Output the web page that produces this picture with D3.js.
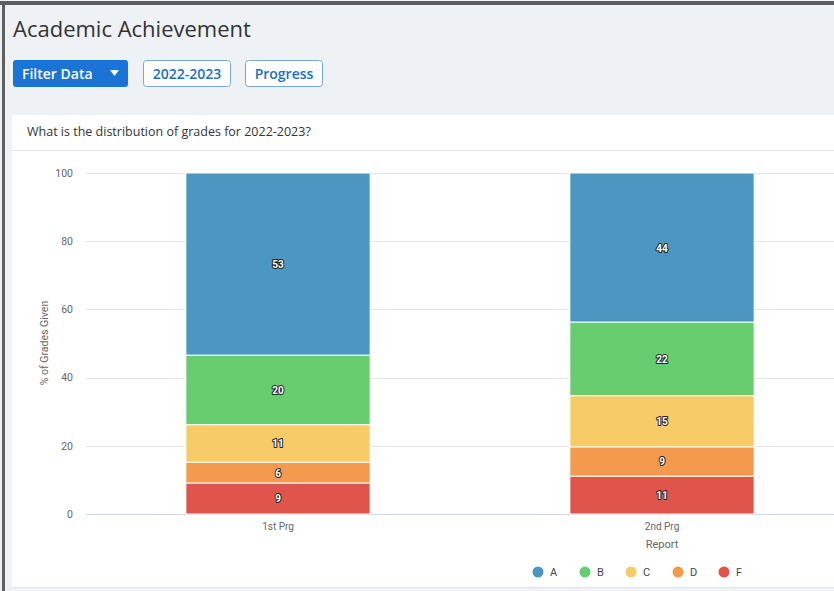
<!DOCTYPE html>
<html><head><meta charset="utf-8">
<script src="https://cdn.jsdelivr.net/npm/d3@7"></script>
<style>
html,body{margin:0;padding:0;background:#fff;}
svg{display:block;}
</style></head>
<body>
<svg id="c" width="834" height="591"></svg>
<script>
const categories = ["1st Prg", "2nd Prg"];
const grades = ["A", "B", "C", "D", "F"];
const valuesA = [53.4, 43.7];
const valuesB = [20.4, 21.6];
const valuesC = [11.0, 15.0];
const valuesD = [6.1, 8.6];
const valuesF = [9.1, 11.1];
const yTicks = [0, 20, 40, 60, 80, 100];
const colors = {A:"#4b97c1", B:"#67cd6f", C:"#f7cb68", D:"#f39a4f", F:"#e0554b"};

const seriesMap = {A:valuesA, B:valuesB, C:valuesC, D:valuesD, F:valuesF};
const rows = categories.map((c,i)=>{const r={cat:c}; grades.forEach(g=>r[g]=seriesMap[g][i]); return r;});

const svg = d3.select("#c");
const W = 834, H = 591;

// frame & backgrounds
svg.append("rect").attr("x",0).attr("y",0).attr("width",W).attr("height",H).attr("fill","#eef2f4");
svg.append("rect").attr("x",0).attr("y",1).attr("width",W).attr("height",4).attr("fill","#5f5f5f");
svg.append("rect").attr("x",2).attr("y",1).attr("width",3).attr("height",H).attr("fill","#5f5f5f");
// card
svg.append("rect").attr("x",12).attr("y",115).attr("width",W-12).attr("height",472).attr("fill","#fff");
svg.append("line").attr("x1",12).attr("x2",W).attr("y1",587.5).attr("y2",587.5).attr("stroke","#e2e5e7");
svg.append("line").attr("x1",12).attr("x2",W).attr("y1",150.5).attr("y2",150.5).attr("stroke","#e6e6e6");

// title
svg.append("text").attr("x",13).attr("y",37).text("Academic Achievement")
  .attr("font-family","'Open Sans', sans-serif").attr("font-size",22).attr("fill","#333");

// buttons
const btnY = 60, btnH = 27;
svg.append("rect").attr("x",13).attr("y",btnY).attr("width",115).attr("height",btnH).attr("rx",3).attr("fill","#1a73d6");
svg.append("text").attr("x",22).attr("y",btnY+18.5).text("Filter Data")
  .attr("font-family","'Open Sans', sans-serif").attr("font-size",14).attr("font-weight",600).attr("fill","#fff");
svg.append("path").attr("d",`M110,${btnY+10} L119,${btnY+10} L114.5,${btnY+16} Z`).attr("fill","#fff");
[["2022-2023",143,87],["Progress",245,77]].forEach(([t,x,w])=>{
  svg.append("rect").attr("x",x+0.5).attr("y",btnY+0.5).attr("width",w).attr("height",btnH-1).attr("rx",3)
    .attr("fill","#fff").attr("stroke","#7aa7d9");
  svg.append("text").attr("x",x+w/2+0.5).attr("y",btnY+18.5).text(t).attr("text-anchor","middle")
    .attr("font-family","'Open Sans', sans-serif").attr("font-size",14).attr("font-weight",600).attr("fill","#1a6fc9");
});

// card header
svg.append("text").attr("x",27).attr("y",136).text("What is the distribution of grades for 2022-2023?")
  .attr("font-family","'Open Sans', sans-serif").attr("font-size",12.5).attr("fill","#333");

// chart
const plotL = 86, plotR = 854, yTop = 173, yBot = 514;
const x = d3.scaleBand().domain(categories).range([plotL, plotR]).paddingInner(0.52).paddingOuter(0.26);
const y = d3.scaleLinear().domain([0,100]).range([yBot, yTop]);

const g = svg.append("g");
g.selectAll("line.grid").data(yTicks).join("line").attr("class","grid")
  .attr("x1",plotL).attr("x2",W).attr("y1",d=>Math.round(y(d))+0.5).attr("y2",d=>Math.round(y(d))+0.5)
  .attr("stroke", d=> d===0 ? "#ccd6eb" : "#e6e6e6");

const yAxis = d3.axisLeft(y).tickValues(yTicks).tickSize(0).tickPadding(0);
const ya = svg.append("g").attr("transform",`translate(73,0)`).call(yAxis);
ya.select(".domain").remove();
ya.selectAll("text").attr("font-family","Roboto, sans-serif").attr("font-size",10.5).attr("fill","#666");

svg.append("text").attr("transform","translate(48,343) rotate(-90)").attr("text-anchor","middle")
  .text("% of Grades Given").attr("font-family","Roboto, sans-serif").attr("font-size",10.5).attr("fill","#666");

const stack = d3.stack().keys(grades.slice().reverse());
const stacked = stack(rows);
const sg = svg.append("g").selectAll("g").data(stacked).join("g").attr("fill",d=>colors[d.key]);
sg.selectAll("rect").data(d=>d).join("rect")
  .attr("x",d=>x(d.data.cat)).attr("width",x.bandwidth())
  .attr("y",d=>y(d[1])).attr("height",d=>y(d[0])-y(d[1]))
  .attr("stroke","#fff").attr("stroke-width",1);

const lg = svg.append("g").selectAll("g").data(stacked).join("g");
lg.selectAll("text").data(d=>d.map(v=>({v, key:d.key}))).join("text")
  .attr("x",d=>x(d.v.data.cat)+x.bandwidth()/2)
  .attr("y",d=>(y(d.v[0])+y(d.v[1]))/2+4)
  .attr("text-anchor","middle")
  .text(d=>Math.round(d.v.data[d.key]))
  .attr("font-family","Roboto, sans-serif").attr("font-size",10).attr("font-weight",700)
  .attr("fill","#fff").attr("stroke","#222").attr("stroke-width",2).attr("stroke-linejoin","round")
  .attr("paint-order","stroke");

const xAxis = d3.axisBottom(x).tickSize(0).tickPadding(0);
const xa = svg.append("g").attr("transform",`translate(0,${yBot+9})`).call(xAxis);
xa.select(".domain").remove();
xa.selectAll("text").attr("font-family","Roboto, sans-serif").attr("font-size",10).attr("fill","#666");

svg.append("text").attr("x",x("2nd Prg")+x.bandwidth()/2).attr("y",548).attr("text-anchor","middle").text("Report")
  .attr("font-family","Roboto, sans-serif").attr("font-size",11).attr("fill","#666");

// legend
const legX = [538, 585, 631, 678, 724];
const leg = svg.append("g").selectAll("g").data(grades).join("g")
  .attr("transform",(d,i)=>`translate(${legX[i]},572)`);
leg.append("circle").attr("r",5.5).attr("fill",d=>colors[d]);
leg.append("text").attr("x",12).attr("y",4).text(d=>d)
  .attr("font-family","Roboto, sans-serif").attr("font-size",11).attr("fill","#444");
</script>
</body></html>
